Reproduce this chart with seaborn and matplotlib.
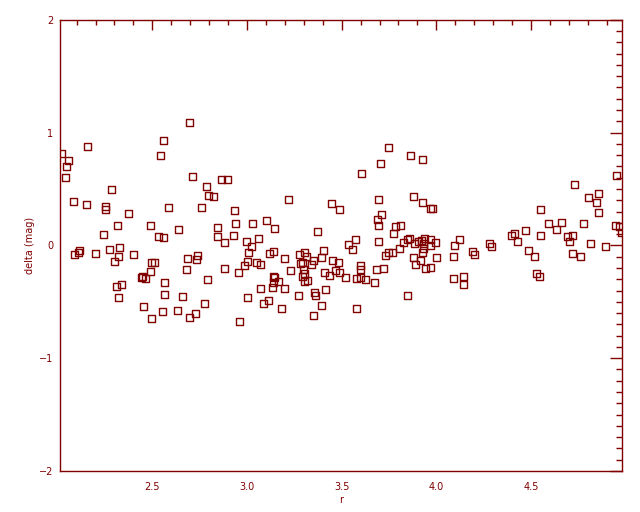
import matplotlib
matplotlib.use("Agg")
import matplotlib.pyplot as plt
import numpy as np
import pandas as pd
import seaborn as sns
from matplotlib.ticker import MultipleLocator

# values
r_vals = [
    2.695, 2.157, 2.018, 2.558, 2.542, 2.056, 2.046, 2.040, 2.711, 2.864,
    2.899, 2.785, 2.283, 2.797, 2.822, 2.083, 2.151, 2.252, 2.252, 2.584,
    2.758, 2.373, 2.315, 2.489, 2.637, 2.843, 2.241, 2.531, 2.558, 2.843,
    2.114, 2.109, 2.088, 2.199, 2.273, 2.326, 2.320, 2.299, 2.399, 2.498,
    2.510, 2.489, 2.685, 2.737, 2.732, 2.679, 2.443, 2.449, 2.463, 2.563,
    2.790, 2.336, 2.310, 2.320, 2.563, 2.658, 2.774, 2.452, 2.553, 2.632,
    2.727, 2.695, 2.494,
    3.746, 3.862, 3.704, 3.603, 3.218, 3.445, 3.487, 3.693, 3.878, 3.925,
    2.933, 3.709, 3.688, 3.693, 2.938, 3.028, 3.102, 3.144, 2.927, 2.880,
    2.996, 3.022, 3.059, 3.007, 3.371, 3.783, 3.809, 3.772, 3.572, 3.535,
    3.556, 3.693, 3.118, 3.139, 3.197, 3.276, 3.302, 3.313, 3.281, 3.292,
    3.350, 3.339, 3.392, 3.403, 3.450, 3.482, 3.001, 3.049, 3.070, 2.985,
    2.954, 2.880, 3.228, 3.297, 3.302, 3.292, 3.302, 3.318, 3.139, 3.144,
    3.165, 3.139, 3.134, 3.197, 3.070, 3.001, 3.112, 3.086, 3.181, 2.959,
    3.271, 3.355, 3.360, 3.413, 3.392, 3.350, 3.408, 3.434, 3.466, 3.487,
    3.519, 3.598, 3.598, 3.598, 3.577, 3.624, 3.672, 3.682, 3.719, 3.577,
    3.846, 3.730, 3.746, 3.767, 3.804, 3.825, 3.846, 3.857, 3.883, 3.904,
    3.878, 3.888,
    3.929, 3.967, 3.978, 3.936, 3.922, 3.967, 3.994, 3.931, 3.967, 3.931,
    3.925, 4.000, 3.918, 3.941, 3.967, 4.121, 4.094, 4.089, 4.089, 4.142,
    4.142, 4.190, 4.200, 4.279, 4.290, 4.395, 4.411, 4.427, 4.470, 4.485,
    4.517, 4.527, 4.543, 4.548, 4.548, 4.590, 4.633, 4.659, 4.691, 4.717,
    4.701, 4.717, 4.760, 4.728, 4.776, 4.802, 4.855, 4.844, 4.855, 4.812,
    4.892, 4.950, 4.944, 4.970, 4.976,
]
delta_vals = [
    1.089, 0.876, 0.814, 0.929, 0.796, 0.752, 0.699, 0.602, 0.611, 0.584,
    0.584, 0.522, 0.496, 0.442, 0.434, 0.389, 0.363, 0.345, 0.315, 0.336,
    0.336, 0.283, 0.177, 0.177, 0.142, 0.159, 0.097, 0.080, 0.071, 0.080,
    -0.047, -0.065, -0.077, -0.071, -0.035, -0.018, -0.097, -0.142, -0.080, -0.150,
    -0.150, -0.230, -0.115, -0.088, -0.124, -0.212, -0.281, -0.278, -0.292, -0.327,
    -0.301, -0.345, -0.363, -0.460, -0.434, -0.451, -0.513, -0.540, -0.584, -0.575,
    -0.602, -0.637, -0.646,
    0.867, 0.796, 0.726, 0.637, 0.407, 0.372, 0.319, 0.407, 0.434, 0.381,
    0.310, 0.274, 0.230, 0.177, 0.195, 0.195, 0.221, 0.150, 0.088, 0.027,
    0.035, -0.009, 0.062, -0.062, 0.124, 0.168, 0.177, 0.106, 0.053, 0.009,
    -0.035, 0.035, -0.071, -0.053, -0.115, -0.080, -0.062, -0.097, -0.159, -0.150,
    -0.133, -0.168, -0.106, -0.044, -0.133, -0.150, -0.142, -0.150, -0.168, -0.177,
    -0.239, -0.204, -0.221, -0.212, -0.248, -0.274, -0.319, -0.310, -0.274, -0.283,
    -0.319, -0.327, -0.372, -0.381, -0.381, -0.460, -0.487, -0.513, -0.558, -0.673,
    -0.442, -0.416, -0.442, -0.389, -0.531, -0.619, -0.239, -0.265, -0.221, -0.239,
    -0.283, -0.177, -0.212, -0.283, -0.292, -0.301, -0.327, -0.212, -0.204, -0.558,
    -0.442, -0.088, -0.062, -0.062, -0.027, 0.027, 0.053, 0.062, 0.018, 0.035,
    -0.106, -0.168,
    0.761, 0.327, 0.327, 0.062, 0.044, 0.053, 0.027, 0.018, 0.000, -0.027,
    -0.062, -0.106, -0.133, -0.204, -0.195, 0.053, 0.000, -0.097, -0.292, -0.274,
    -0.345, -0.053, -0.080, 0.018, -0.009, 0.088, 0.106, 0.035, 0.133, -0.044,
    -0.097, -0.248, -0.274, 0.319, 0.088, 0.195, 0.142, 0.204, 0.080, 0.088,
    0.035, -0.071, -0.097, 0.540, 0.195, 0.425, 0.460, 0.381, 0.292, 0.018,
    -0.009, 0.619, 0.177, 0.168, 0.115,
]

x_range = [2.014, 4.982]
y_range = [-2, 2]
y_ticks = [-2, -1, 0, 1, 2]
x_ticks = [2.5, 3.0, 3.5, 4.0, 4.5]
x_ticklabels = ["2.5", "3.0", "3.5", "4.0", "4.5"]

RED = "#800000"

sns.set_style("white")
plt.rcParams["font.family"] = ["DejaVu Sans"]

df = pd.DataFrame({"r": r_vals, "delta": delta_vals})

fig = plt.figure(figsize=(6.4, 5.12), dpi=100)
ax = fig.add_axes([0.0942, 0.080, 0.8781, 0.8815])

sns.scatterplot(data=df, x="r", y="delta", ax=ax, marker="s", s=26,
                facecolor="none", edgecolor=RED, linewidth=1.0)

ax.set_xlim(x_range)
ax.set_ylim(y_range)
ax.set_xticks(x_ticks)
ax.set_xticklabels(x_ticklabels)
ax.set_yticks(y_ticks)
ax.xaxis.set_minor_locator(MultipleLocator(0.1))
ax.yaxis.set_minor_locator(MultipleLocator(0.1))

for side in ax.spines.values():
    side.set_color(RED)
    side.set_linewidth(1.0)

ax.tick_params(axis="both", which="both", direction="in", colors=RED,
               top=True, right=True, labelsize=7, width=1.0)
ax.tick_params(axis="x", which="major", length=7.5, pad=8)
ax.tick_params(axis="x", which="minor", length=3.8)
ax.tick_params(axis="y", which="major", length=8.6, pad=5)
ax.tick_params(axis="y", which="minor", length=4.3)

ax.set_xlabel("r", color=RED, fontsize=7, labelpad=2)
ax.set_ylabel("delta (mag)", color=RED, fontsize=7, labelpad=3)
ax.grid(False)

fig.savefig("out.png", dpi=100, facecolor="white")
